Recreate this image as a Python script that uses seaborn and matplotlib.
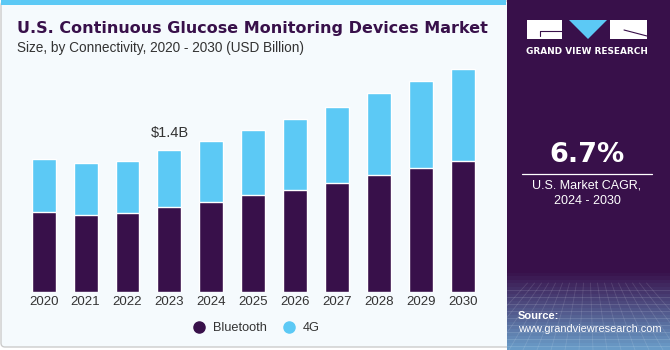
import numpy as np
import pandas as pd
import matplotlib.pyplot as plt
import matplotlib.patches as mpatches
from matplotlib.lines import Line2D
import seaborn as sns

# === DATA ===
years = ["2020", "2021", "2022", "2023", "2024", "2025", "2026", "2027", "2028", "2029", "2030"]
bluetooth = [0.79, 0.76, 0.78, 0.84, 0.89, 0.96, 1.01, 1.08, 1.15, 1.22, 1.29]
g4 = [0.52, 0.51, 0.51, 0.56, 0.60, 0.64, 0.70, 0.75, 0.81, 0.86, 0.91]
series_names = ["Bluetooth", "4G"]
label_year = "2023"
label_text = "$1.4B"
cagr_text = "6.7%"

purple = "#38104A"
blue = "#5CC9F5"
panel_bg = "#F5FAFD"
text_dark = "#333333"

df = pd.DataFrame({"year": years, "Bluetooth": bluetooth, "4G": g4})
df["total"] = df["Bluetooth"] + df["4G"]

sns.set_style("white")
plt.rcParams["font.family"] = ["Liberation Sans", "DejaVu Sans"]

W, H = 670, 350
fig = plt.figure(figsize=(W / 100, H / 100), dpi=100)
fig.patch.set_facecolor("white")

def fx(px):
    return px / W

def fy(py):
    return 1 - py / H

# === LEFT PANEL BACKGROUND ===
bg = fig.add_axes([0, 0, 1, 1], zorder=-5)
bg.set_xlim(0, W)
bg.set_ylim(H, 0)
bg.axis("off")
bg.add_patch(mpatches.FancyBboxPatch((1, 1), 512, 346, boxstyle="round,pad=0,rounding_size=4",
                                     facecolor=panel_bg, edgecolor="#CCCCCC", lw=1))
bg.add_patch(mpatches.Rectangle((1, 0), 505, 5, facecolor=blue, edgecolor="none"))

# === RIGHT PANEL ===
rp = fig.add_axes([fx(507), 0, fx(163), 1], zorder=-4)
grad = np.linspace(0, 1, 100)
cols = np.zeros((100, 1, 3))
top_c = np.array([0x38, 0x10, 0x4A]) / 255
bot_c = np.array([0x6A, 0x9C, 0xC8]) / 255
for i, t in enumerate(grad):
    w = 0 if t < 0.78 else min(1, (t - 0.78) / 0.22)
    cols[i, 0] = top_c * (1 - w) + bot_c * w
rp.imshow(cols, aspect="auto", extent=[0, 163, H, 0])
rp.set_xlim(0, 163)
rp.set_ylim(H, 0)
for yy in np.arange(290, 350, 7):
    rp.plot([0, 163], [yy, yy], color="white", alpha=0.12, lw=0.6)
for xx in np.arange(-40, 200, 14):
    rp.plot([81 + (xx - 81) * 0.5, xx], [283, 350], color="white", alpha=0.12, lw=0.6)
rp.axis("off")

# logo
rp.add_patch(mpatches.Rectangle((20, 20), 35, 19, facecolor="white", edgecolor="none"))
rp.plot([33, 55], [31, 31], color=purple, lw=0.8)
rp.plot([33, 33], [31, 36], color=purple, lw=0.8)
rp.add_patch(mpatches.Polygon([[62, 20], [100, 20], [81, 39]], closed=True, facecolor=blue, edgecolor="none"))
rp.add_patch(mpatches.Rectangle((103, 20), 37, 19, facecolor="white", edgecolor="none"))
rp.plot([117, 140], [30, 36], color=purple, lw=0.8)
rp.text(80, 51, "GRAND VIEW RESEARCH", color="white", fontsize=6.4, fontweight="bold",
        ha="center", va="center", family=["DejaVu Sans"])
rp.text(80, 155, cagr_text, color="white", fontsize=19.5, fontweight="bold", ha="center", va="center",
        family=["DejaVu Sans"])
rp.plot([15, 145], [173.5, 173.5], color="white", lw=0.9)
rp.text(80, 186, "U.S. Market CAGR,", color="white", fontsize=9, ha="center", va="center")
rp.text(80, 201, "2024 - 2030", color="white", fontsize=9, ha="center", va="center")
rp.text(11, 316, "Source:", color="white", fontsize=8, fontweight="bold", ha="left", va="center")
rp.text(11, 329, "www.grandviewresearch.com", color="white", fontsize=7.9, ha="left", va="center")

# === TITLES ===
fig.text(fx(17), fy(29), "U.S. Continuous Glucose Monitoring Devices Market", color=purple,
         fontsize=11.5, fontweight="bold", ha="left", va="center", family=["DejaVu Sans"])
fig.text(fx(17), fy(48), "Size, by Connectivity, 2020 - 2030 (USD Billion)", color=text_dark,
         fontsize=9.8, ha="left", va="center")

# === BARS ===
ax = fig.add_axes([fx(20), fy(292), fx(467), (292 - 60) / H])
ax.set_facecolor("none")
sns.barplot(data=df, x="year", y="total", color=blue, width=0.57, saturation=1, ax=ax)
sns.barplot(data=df, x="year", y="Bluetooth", color=purple, width=0.57, saturation=1, ax=ax)
ax.set_xlim(-0.566, 10.58)
ax.set_ylim(0, 2.29)
ax.set_xlabel("")
ax.set_ylabel("")
ax.set_yticks([])
ax.tick_params(axis="x", length=0, labelsize=9.5, labelcolor=text_dark, pad=3)
sns.despine(ax=ax, left=True, bottom=True)

i23 = years.index(label_year)
ax.text(i23, df["total"][i23] + 0.1, label_text, ha="center", va="bottom", fontsize=10.5, color=text_dark)

handles = [Line2D([], [], marker="o", ls="", color=purple, markersize=8),
           Line2D([], [], marker="o", ls="", color=blue, markersize=8)]
fig.legend(handles, series_names, loc="center", bbox_to_anchor=(fx(253), fy(328)), ncol=2,
           frameon=False, fontsize=9.2, handletextpad=0.1, columnspacing=0.7, labelcolor=text_dark)

fig.savefig("out.png", dpi=100)
